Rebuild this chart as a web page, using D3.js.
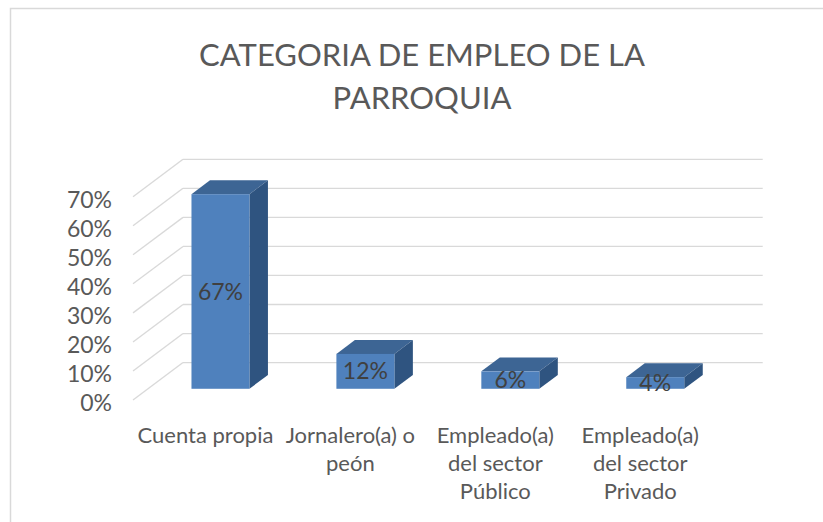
<!DOCTYPE html>
<html>
<head>
<meta charset="utf-8">
<script src="https://cdn.jsdelivr.net/npm/d3@7"></script>
<style>
  body { margin: 0; background: #fff; }
  svg { display: block; }
</style>
</head>
<body>
<div id="chart"></div>
<script>
var categories = ['Cuenta propia', 'Jornalero(a) o peón', 'Empleado(a) del sector Público', 'Empleado(a) del sector Privado'];
var values = [0.67, 0.12, 0.06, 0.04];
var valueLabels = ['67%', '12%', '6%', '4%'];
var yTicks = [0, 0.1, 0.2, 0.3, 0.4, 0.5, 0.6, 0.7];
var titleLines = ['CATEGORIA DE EMPLEO DE LA', 'PARROQUIA'];

var width = 823,
    height = 522;

var textColor = '#595959',
    labelColor = '#404040',
    gridColor = '#d9d9d9',
    frontColor = '#4f81bd',
    topColor = '#3d6594',
    sideColor = '#2f5480';

var fontFamily = 'Lato, "Open Sans", sans-serif';

// 3d depth of the floor (front plane -> back wall)
var depthX = 50,
    depthY = -37.4;
// bar sits between these depth fractions
var barNear = 0.3,
    barFar = 0.67;

var svg = d3.select('#chart')
  .append('svg')
  .attr('width', width)
  .attr('height', height);

// chart frame
svg.append('rect')
  .attr('x', 10.5)
  .attr('y', 8.5)
  .attr('width', width)
  .attr('height', height)
  .attr('fill', 'none')
  .attr('stroke', gridColor)
  .attr('stroke-width', 1.5);

// title
svg.append('text')
  .attr('text-anchor', 'middle')
  .attr('font-family', fontFamily)
  .attr('font-size', '31px')
  .attr('fill', textColor)
  .selectAll('tspan')
  .data(titleLines)
  .join('tspan')
  .attr('x', 422)
  .attr('y', function(d, i) { return 66 + i * 43; })
  .text(function(d) { return d; });

// scales on the front plane
var x = d3.scaleBand()
  .domain(categories)
  .range([133, 712.7])
  .paddingInner(0)
  .paddingOuter(0);

var y = d3.scaleLinear()
  .domain([0, 0.7])
  .range([400, 196.7]);

var g = svg.append('g');

// back wall gridlines
g.selectAll('line.back')
  .data(yTicks)
  .join('line')
  .attr('class', 'back')
  .attr('x1', x.range()[0] + depthX)
  .attr('x2', x.range()[1] + depthX)
  .attr('y1', function(d) { return y(d) + depthY; })
  .attr('y2', function(d) { return y(d) + depthY; })
  .attr('stroke', gridColor)
  .attr('stroke-width', 1.3);

// side wall gridlines
g.selectAll('line.side')
  .data(yTicks)
  .join('line')
  .attr('class', 'side')
  .attr('x1', x.range()[0])
  .attr('x2', x.range()[0] + depthX)
  .attr('y1', function(d) { return y(d); })
  .attr('y2', function(d) { return y(d) + depthY; })
  .attr('stroke', gridColor)
  .attr('stroke-width', 1.3);

// y axis labels
var yAxis = d3.axisLeft(y)
  .tickValues(yTicks)
  .tickFormat(d3.format('.0%'))
  .tickSize(0)
  .tickPadding(0);

var yAxisG = svg.append('g')
  .attr('transform', 'translate(112,3)')
  .call(yAxis);
yAxisG.select('.domain').remove();
yAxisG.selectAll('text')
  .attr('font-family', fontFamily)
  .attr('font-size', '23px')
  .attr('fill', textColor);

// bars
var barW = x.bandwidth() * 0.4;
var nearX = barNear * depthX, nearY = barNear * depthY;
var deep = barFar - barNear;
var ddx = deep * depthX, ddy = deep * depthY;

var bars = g.selectAll('g.bar')
  .data(values)
  .join('g')
  .attr('class', 'bar')
  .attr('transform', function(d, i) {
    var x0 = x(categories[i]) + (x.bandwidth() - barW) / 2 + nearX;
    return 'translate(' + x0 + ',' + nearY + ')';
  });

// top face
bars.append('path')
  .attr('fill', topColor)
  .attr('d', function(d) {
    var t = y(d);
    return 'M0,' + t + 'L' + barW + ',' + t + 'L' + (barW + ddx) + ',' + (t + ddy) +
      'L' + ddx + ',' + (t + ddy) + 'Z';
  });

// side face
bars.append('path')
  .attr('fill', sideColor)
  .attr('d', function(d) {
    var t = y(d), b = y(0);
    return 'M' + barW + ',' + t + 'L' + (barW + ddx) + ',' + (t + ddy) +
      'L' + (barW + ddx) + ',' + (b + ddy) + 'L' + barW + ',' + b + 'Z';
  });

// front face
bars.append('rect')
  .attr('fill', frontColor)
  .attr('x', 0)
  .attr('y', function(d) { return y(d); })
  .attr('width', barW)
  .attr('height', function(d) { return y(0) - y(d); });

// value labels centred on the front face
bars.append('text')
  .attr('x', barW / 2)
  .attr('y', function(d) { return (y(d) + y(0)) / 2; })
  .attr('dy', '0.35em')
  .attr('text-anchor', 'middle')
  .attr('font-family', fontFamily)
  .attr('font-size', '23px')
  .attr('fill', labelColor)
  .text(function(d, i) { return valueLabels[i]; });

// category labels
var xAxis = d3.axisBottom(x)
  .tickSize(0)
  .tickPadding(0);

var xAxisG = svg.append('g')
  .attr('transform', 'translate(0,427)')
  .call(xAxis);
xAxisG.select('.domain').remove();
xAxisG.selectAll('text')
  .attr('font-family', fontFamily)
  .attr('font-size', '22px')
  .attr('fill', textColor)
  .call(wrap, x.bandwidth() - 2);

function wrap(texts, maxWidth) {
  texts.each(function() {
    var text = d3.select(this);
    var words = text.text().split(/\s+/);
    var line = [];
    var tspan = text.text(null).append('tspan').attr('x', 0).attr('dy', '0.71em');
    words.forEach(function(word) {
      line.push(word);
      tspan.text(line.join(' '));
      if (tspan.node().getComputedTextLength() > maxWidth && line.length > 1) {
        line.pop();
        tspan.text(line.join(' '));
        line = [word];
        tspan = text.append('tspan')
          .attr('x', 0)
          .attr('dy', '1.28em')
          .text(word);
      }
    });
  });
}
</script>
</body>
</html>
